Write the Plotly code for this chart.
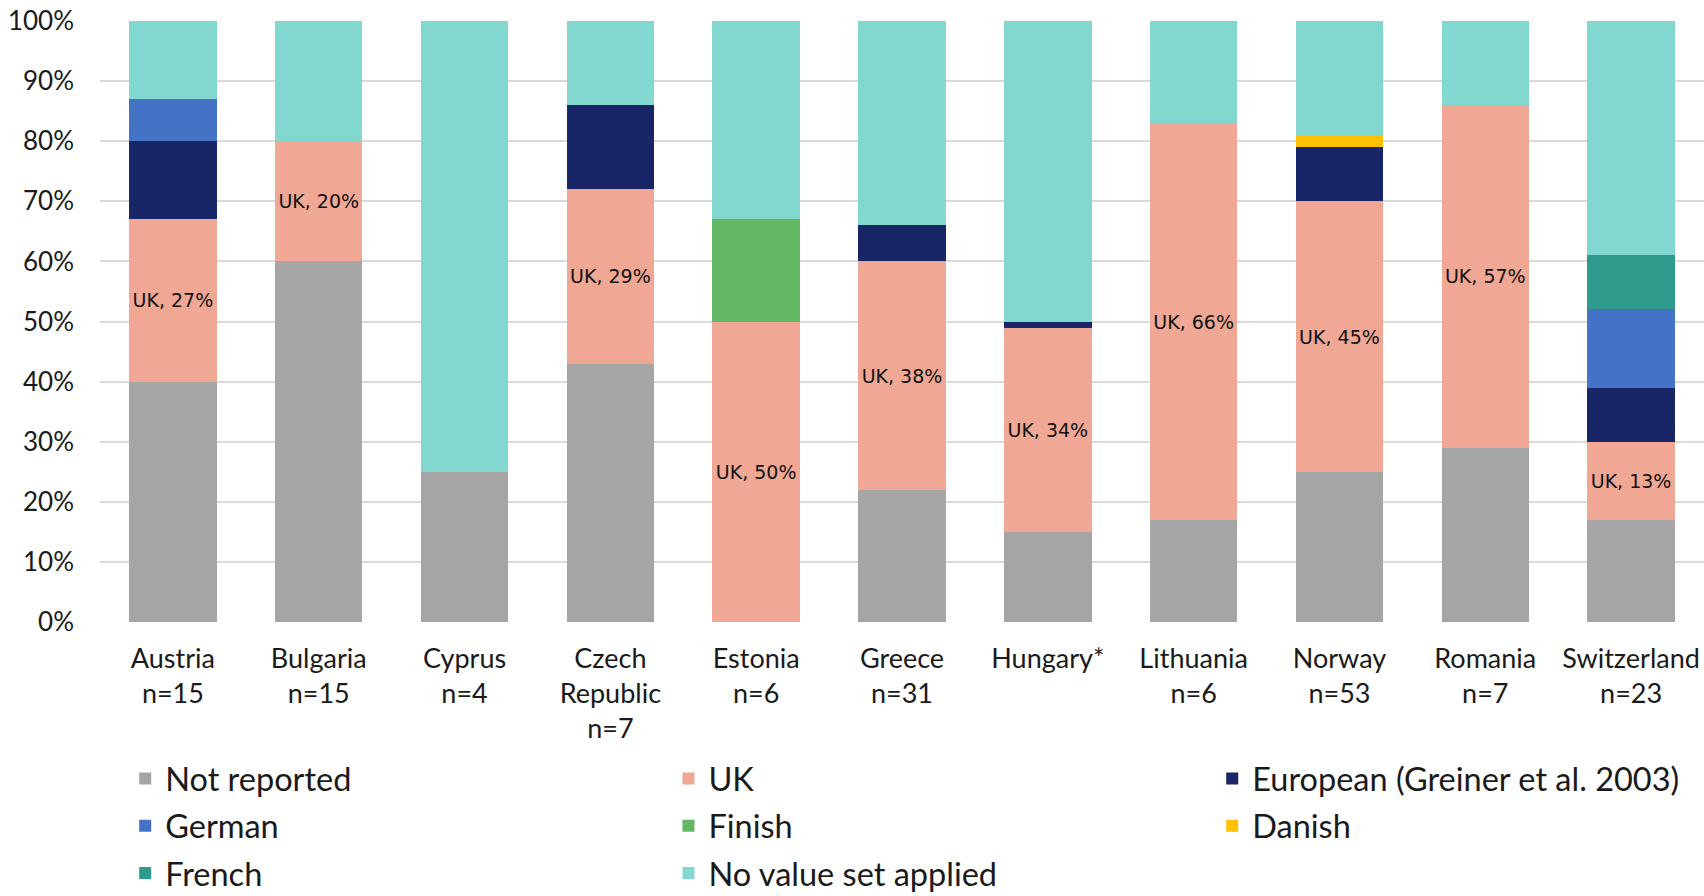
import plotly.graph_objects as go

countries = ["Austria", "Bulgaria", "Cyprus", "Czech<br>Republic", "Estonia", "Greece",
             "Hungary*", "Lithuania", "Norway", "Romania", "Switzerland"]
sample_sizes = ["n=15", "n=15", "n=4", "n=7", "n=6", "n=31", "", "n=6", "n=53", "n=7", "n=23"]

not_reported = [40, 60, 25, 43, 0, 22, 15, 17, 25, 29, 17]
uk = [27, 20, 0, 29, 50, 38, 34, 66, 45, 57, 13]
european = [13, 0, 0, 14, 0, 6, 1, 0, 9, 0, 9]
german = [7, 0, 0, 0, 0, 0, 0, 0, 0, 0, 13]
finish = [0, 0, 0, 0, 17, 0, 0, 0, 0, 0, 0]
danish = [0, 0, 0, 0, 0, 0, 0, 0, 2, 0, 0]
french = [0, 0, 0, 0, 0, 0, 0, 0, 0, 0, 9]
no_value = [13, 20, 75, 14, 33, 34, 50, 17, 19, 14, 39]

series = [
    ("Not reported", not_reported, "#A5A5A5", "legend"),
    ("UK", uk, "#F0A793", "legend2"),
    ("European (Greiner et al. 2003)", european, "#182567", "legend3"),
    ("German", german, "#4472C4", "legend"),
    ("Finish", finish, "#63B863", "legend2"),
    ("Danish", danish, "#FFC000", "legend3"),
    ("French", french, "#2E9B8C", "legend"),
    ("No value set applied", no_value, "#82D8CE", "legend2"),
]

tick_labels = [c + ("<br>" + n if n else "") for c, n in zip(countries, sample_sizes)]
x_idx = list(range(len(countries)))

fig = go.Figure()
for i, (name, vals, color, lg) in enumerate(series):
    kw = {}
    if name == "UK":
        kw = dict(
            text=[f"UK, {v}%" if v > 0 else "" for v in vals],
            textposition="inside",
            insidetextanchor="middle",
            textangle=0,
            constraintext="none",
            textfont=dict(family="DejaVu Sans", size=19, color="#111111"),
        )
    fig.add_trace(go.Bar(
        x=x_idx, y=vals, name=name, marker=dict(color=color, line=dict(width=0)),
        legend=lg, legendgroup=f"g{i}", **kw
    ))

legend_common = dict(
    orientation="v", yanchor="top", xanchor="left", y=-0.2145,
    font=dict(family="Lato", size=32.5, color="#1a1a1a"),
    bgcolor="rgba(0,0,0,0)", borderwidth=0, traceorder="grouped",
    tracegroupgap=2,
)

fig.update_layout(
    width=1704, height=896,
    barmode="stack", bargap=0.4,
    plot_bgcolor="white", paper_bgcolor="white",
    margin=dict(l=100, r=0, t=21, b=274, autoexpand=False),
    showlegend=True,
    legend=dict(x=0.0157, **legend_common),
    legend2=dict(x=0.3544, **legend_common),
    legend3=dict(x=0.6934, **legend_common),
    xaxis=dict(
        tickmode="array", tickvals=x_idx, ticktext=tick_labels,
        range=[-0.5, len(countries) - 0.5],
        showgrid=False, showline=False, ticks="",
        tickfont=dict(family="Lato", size=27, color="#1a1a1a"),
        ticklabelstandoff=18,
    ),
    yaxis=dict(
        range=[0, 100], dtick=10, ticksuffix="%",
        showgrid=True, gridcolor="#D9D9D9", gridwidth=1.5,
        zeroline=False, showline=False, ticks="",
        tickfont=dict(family="Lato", size=26, color="#1a1a1a"),
        ticklabelstandoff=25,
    ),
)

fig.write_html("out.html")
